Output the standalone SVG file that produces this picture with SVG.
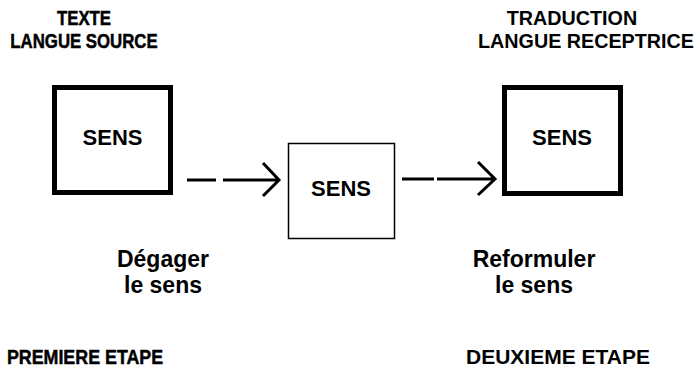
<svg xmlns="http://www.w3.org/2000/svg" width="696" height="370" viewBox="0 0 696 370">
  <style>
    text { font-family: "Liberation Sans", Arial, sans-serif; font-weight: bold; fill: #000; text-anchor: middle; }
    .head { font-size: 21px; }
    .narrow { stroke: #000; stroke-width: 0.5; }
    .sens { font-size: 22px; }
    .note { font-size: 23px; }
    .box-thick { fill: #fff; stroke: #000; stroke-width: 5; }
    .box-thin { fill: #fff; stroke: #000; stroke-width: 1.5; }
    .wire { fill: none; stroke: #000; stroke-width: 3; }
  </style>
  <rect width="696" height="370" fill="#fff"/>

  <!-- column headings; the narrow ones get a thin outline to keep their weight -->
  <g id="title-source">
    <text class="head narrow" transform="translate(84 25) scale(0.8 1)">TEXTE</text>
    <text class="head narrow" transform="translate(84 48) scale(0.8 1)">LANGUE SOURCE</text>
  </g>
  <g id="title-target">
    <text class="head" transform="translate(572 25) scale(0.94 1)">TRADUCTION</text>
    <text class="head" transform="translate(586 48) scale(0.94 1)">LANGUE RECEPTRICE</text>
  </g>

  <g id="node-source">
    <rect class="box-thick" x="54.5" y="87.5" width="116" height="105"/>
    <text class="sens" x="112.5" y="145">SENS</text>
  </g>
  <g id="node-middle">
    <rect class="box-thin" x="288.5" y="143.5" width="106" height="95"/>
    <text class="sens" x="341" y="196">SENS</text>
  </g>
  <g id="node-target">
    <rect class="box-thick" x="504.5" y="87.5" width="116" height="106"/>
    <text class="sens" x="562" y="145">SENS</text>
  </g>

  <g id="connectors">
    <path class="wire" d="M187 180 H216 M223 180 H279 M263 163 L279 180 L263 196"/>
    <path class="wire" d="M402 179 H434 M437 179 H495 M478 162 L495 179 L478 195"/>
  </g>

  <g id="step-labels">
    <text class="note" x="163" y="267">Dégager</text>
    <text class="note" x="163" y="293">le sens</text>
    <text class="note" x="534" y="267">Reformuler</text>
    <text class="note" x="534" y="293">le sens</text>
    <text class="head narrow" transform="translate(85 364) scale(0.85 1)">PREMIERE ETAPE</text>
    <text class="head" transform="translate(558 364)">DEUXIEME ETAPE</text>
  </g>
</svg>
